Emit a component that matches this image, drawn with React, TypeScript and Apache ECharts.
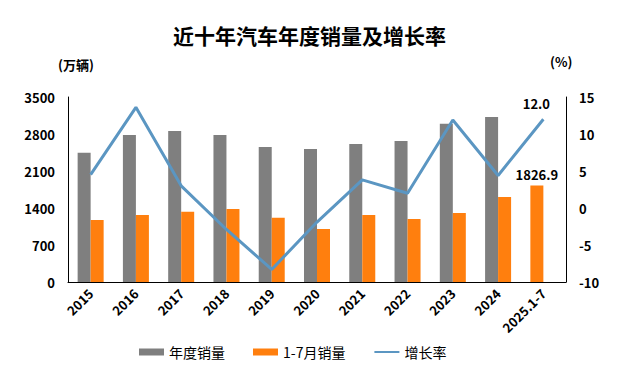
import React, { useEffect, useRef } from "react";
import * as echarts from "echarts";

const categories = ["2015", "2016", "2017", "2018", "2019", "2020", "2021", "2022", "2023", "2024", "2025.1-7"];
const annualSales = [2446, 2781, 2857, 2781, 2554, 2516, 2610, 2667, 2995, 3121, null];
const janJulSales = [1173, 1267, 1330, 1381, 1217, 1003, 1267, 1192, 1305, 1608, 1826.9];
const growthRate = [4.5, 13.6, 3.0, -2.9, -8.3, -1.9, 3.8, 2.0, 11.9, 4.4, 12.0];
const leftTicks = { min: 0, max: 3500, interval: 700 };
const rightTicks = { min: -10, max: 15, interval: 5 };

const GRAY = "#7f7f7f";
const ORANGE = "#ff7f0e";
const BLUE = "#5b96c2";
const FONT = "'Noto Sans CJK SC', 'Noto Sans', sans-serif";

export default function App() {
  const ref = useRef<HTMLDivElement>(null);
  useEffect(() => {
    if (!ref.current) return;
    const chart = echarts.init(ref.current, null, { renderer: "svg" });
    const last = categories.length - 1;
    const valueLabel = {
      color: "#000",
      fontWeight: "bold" as const,
      fontSize: 13,
      fontFamily: FONT,
    };
    const graySeriesData = categories.map((_, i) =>
      annualSales[i] != null
        ? annualSales[i]
        : {
            value: janJulSales[i],
            itemStyle: { color: ORANGE },
            label: {
              show: true,
              position: "top",
              distance: 4,
              ...valueLabel,
              formatter: (p: any) => Number(p.value).toFixed(1),
            },
          }
    );
    const orangeSeriesData = categories.map((_, i) => (annualSales[i] != null ? janJulSales[i] : null));
    const axisLabelStyle = { color: "#000", fontWeight: "bold" as const, fontSize: 13, fontFamily: FONT };
    chart.setOption({
      animation: false,
      textStyle: { fontFamily: FONT },
      title: {
        text: "近十年汽车年度销量及增长率",
        left: 168,
        top: 19,
        textStyle: { fontSize: 21, fontWeight: "bold", color: "#000", fontFamily: FONT },
      },
      grid: { left: 68, right: 55, top: 97, bottom: 93 },
      legend: {
        bottom: 11,
        left: 134,
        itemWidth: 25,
        itemHeight: 7,
        itemGap: 28,
        textStyle: { fontSize: 14, color: "#000", fontFamily: FONT },
        data: [
          { name: "年度销量", icon: "rect" },
          { name: "1-7月销量", icon: "rect" },
          { name: "增长率", itemStyle: { color: "rgba(0,0,0,0)", borderWidth: 0, opacity: 0 } },
        ],
      },
      graphic: [
        { type: "text", left: 58, top: 58, style: { text: "(万辆)", fontSize: 13, fontWeight: "bold", fill: "#000", fontFamily: FONT } },
        { type: "text", left: 550, top: 55, style: { text: "(%)", fontSize: 13, fontWeight: "bold", fill: "#000", fontFamily: FONT } },
      ],
      xAxis: {
        type: "category",
        data: categories,
        axisLine: { show: true, lineStyle: { color: "#000", width: 1 } },
        axisTick: { show: false },
        axisLabel: { ...axisLabelStyle, rotate: 45, margin: 9, interval: 0 },
      },
      yAxis: [
        {
          type: "value",
          ...leftTicks,
          axisLine: { show: true, lineStyle: { color: "#000", width: 1 } },
          axisTick: { show: false },
          splitLine: { show: false },
          axisLabel: { ...axisLabelStyle, margin: 13, formatter: (v: number) => String(v) },
        },
        {
          type: "value",
          ...rightTicks,
          position: "right",
          axisLine: { show: true, onZero: false, lineStyle: { color: "#000", width: 1 } },
          axisTick: { show: false },
          splitLine: { show: false },
          axisLabel: { ...axisLabelStyle, margin: 13, formatter: (v: number) => String(v) },
        },
      ],
      series: [
        {
          name: "年度销量",
          type: "bar",
          data: graySeriesData,
          barWidth: 13,
          barGap: "0%",
          itemStyle: { color: GRAY },
        },
        {
          name: "1-7月销量",
          type: "bar",
          data: orangeSeriesData,
          barWidth: 13,
          barGap: "0%",
          itemStyle: { color: ORANGE },
        },
        {
          name: "增长率",
          type: "line",
          yAxisIndex: 1,
          data: growthRate,
          symbol: "none",
          lineStyle: { color: BLUE, width: 3 },
          itemStyle: { color: BLUE },
          markPoint: {
            symbol: "circle",
            symbolSize: 0,
            data: [
              {
                coord: [last, growthRate[last]],
                value: growthRate[last],
                label: {
                  show: true,
                  position: "top",
                  distance: 9,
                  offset: [-7, 0],
                  ...valueLabel,
                  formatter: (p: any) => Number(p.value).toFixed(1),
                },
              },
            ],
          },
        },
      ],
    });
    return () => chart.dispose();
  }, []);
  return <div ref={ref} style={{ position: "fixed", left: 0, top: 0, width: 621, height: 375, background: "#fff" }} />;
}
